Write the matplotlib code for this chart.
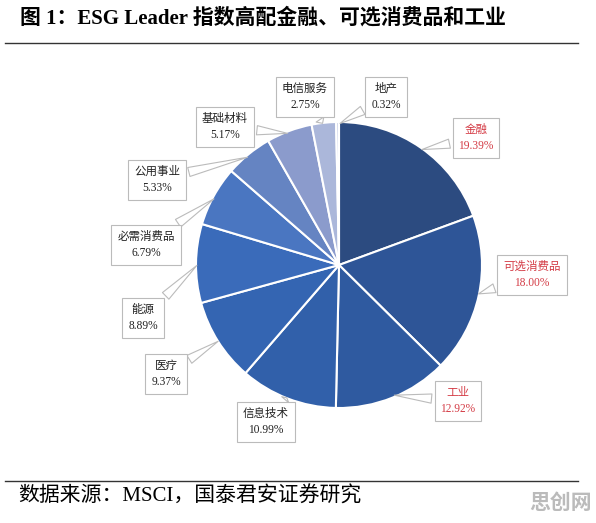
"""ESG Leader index sector weights pie (recreation)."""

import matplotlib.pyplot as plt
import numpy as np

sectors = ["金融", "可选消费品", "工业", "信息技术", "医疗", "能源",
           "必需消费品", "公用事业", "基础材料", "电信服务", "地产"]
weights = [19.39, 18.00, 12.92, 10.99, 9.37, 8.89, 6.79, 5.33, 5.17, 2.75, 0.32]
highlight = ["金融", "可选消费品", "工业"]

colors = ["#2C4B80", "#2E5597", "#2F5AA0", "#3160AA", "#3465B2", "#3A6BBA",
          "#4A76C1", "#6584C2", "#8B9BCC", "#ABB7DA", "#C8D0E7"]

# label box centres in pixel coords (x from left, y from top)
label_pos = [(476, 138), (532, 275), (458, 401), (266, 422), (166, 374),
             (143, 318), (146, 245), (157, 180), (225, 127), (305, 97), (386, 97)]

W, H = 596, 523
fig = plt.figure(figsize=(W / 100, H / 100), dpi=100)
ax = fig.add_axes([0, 0, 1, 1])

cx, cy, r = 339, H - 265, 143
wedges, _ = ax.pie(weights, colors=colors, startangle=90, counterclock=False,
                   center=(cx, cy), radius=r,
                   wedgeprops=dict(edgecolor="white", linewidth=1.5))
ax.set_xlim(0, W)
ax.set_ylim(0, H)
ax.set_aspect("equal")
ax.axis("off")

mixed = ["Liberation Serif", "Noto Sans CJK SC"]

for w, name, val, (lx, ly) in zip(wedges, sectors, weights, label_pos):
    ang = np.deg2rad((w.theta1 + w.theta2) / 2)
    px = cx + r * 0.98 * np.cos(ang)
    py = cy + r * 0.98 * np.sin(ang)
    col = "#D43C46" if name in highlight else "#222222"
    ax.annotate(f"{name}\n{val:.2f}%", xy=(px, py), xytext=(lx, H - ly),
                ha="center", va="center", fontsize=8.3, color=col,
                family=mixed, linespacing=1.45,
                bbox=dict(boxstyle="square,pad=0.5", fc="white", ec="#BBBBBB", lw=0.8),
                arrowprops=dict(arrowstyle="wedge,tail_width=0.8,shrink_factor=0.5",
                                fc="white", ec="#BBBBBB", lw=0.8),
                zorder=5)

fig.text(20 / W, 1 - 18 / H, "图 1：ESG Leader 指数高配金融、可选消费品和工业",
         fontsize=15, fontweight="bold", family=mixed, va="center", ha="left")
fig.add_artist(plt.Line2D([5 / W, 578 / W], [1 - 43 / H, 1 - 43 / H], color="#333333", lw=1))
fig.add_artist(plt.Line2D([5 / W, 578 / W], [1 - 481 / H, 1 - 481 / H], color="#333333", lw=1))
fig.text(18 / W, 1 - 497 / H, "数据来源：MSCI，国泰君安证券研究",
         fontsize=15, family=mixed, va="center", ha="left")
fig.text(592 / W, 1 - 504 / H, "思创网", fontsize=15, fontweight="bold",
         color="#BBBBBB", family=mixed, va="center", ha="right")

fig.savefig("out.png", dpi=100)
